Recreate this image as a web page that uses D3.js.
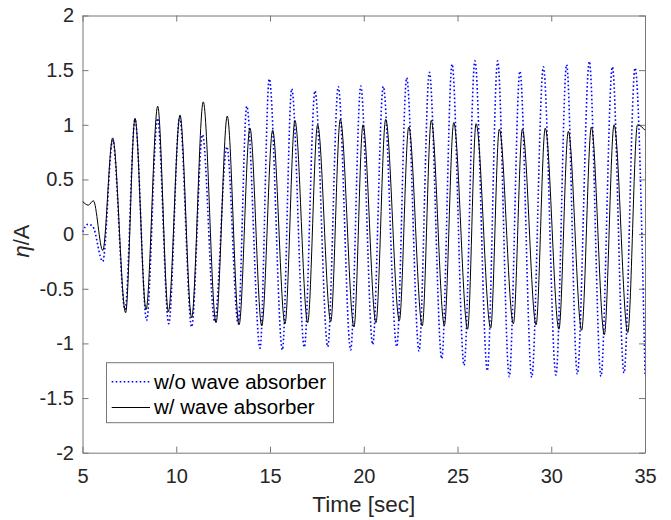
<!DOCTYPE html>
<html>
<head>
<meta charset="utf-8">
<script src="https://cdn.jsdelivr.net/npm/d3@7"></script>
<style>
  body { margin: 0; background: #fff; }
  text { font-family: "Liberation Sans", Arial, Helvetica, sans-serif; }
</style>
</head>
<body>
<div id="chart"></div>
<script>
// extrema (time in s, eta/A)
const withoutT = [5.0, 5.3, 5.55, 6.08, 6.61, 7.27, 7.80, 8.42, 9.00, 9.60, 10.18, 10.82, 11.40, 12.05,
  12.70, 13.30, 13.76, 14.47, 14.96, 15.66, 16.16, 16.83, 17.40, 18.08, 18.64, 19.30, 19.84, 20.48,
  21.04, 21.76, 22.29, 22.95, 23.50, 24.16, 24.71, 25.35, 25.93, 26.59, 27.14, 27.76, 28.33, 28.96,
  29.58, 30.25, 30.82, 31.39, 32.03, 32.65, 33.26, 33.88, 34.47, 35.0];
const withoutV = [0.02, 0.09, 0.07, -0.25, 0.86, -0.69, 1.05, -0.79, 1.06, -0.82, 1.07, -0.85, 0.91, -0.80,
  0.80, -0.82, 1.17, -1.045, 1.42, -1.06, 1.33, -1.035, 1.31, -1.03, 1.35, -1.06, 1.355, -1.01,
  1.35, -1.03, 1.43, -1.07, 1.48, -1.14, 1.555, -1.20, 1.585, -1.25, 1.585, -1.305, 1.49, -1.31,
  1.53, -1.29, 1.55, -1.28, 1.58, -1.30, 1.53, -1.27, 1.52, -1.28];

const withT = [5.0, 5.31, 5.58, 6.08, 6.61, 7.30, 7.80, 8.39, 9.01, 9.58, 10.20, 10.82, 11.44, 12.12,
  12.72, 13.35, 13.93, 14.56, 15.14, 15.80, 16.33, 17.01, 17.54, 18.24, 18.75, 19.48, 19.96, 20.65,
  21.17, 21.90, 22.40, 23.12, 23.60, 24.30, 24.80, 25.54, 25.99, 26.77, 27.23, 27.98, 28.46, 29.19,
  29.68, 30.41, 30.91, 31.62, 32.14, 32.83, 33.35, 34.08, 34.60, 35.0];
const withV = [0.30, 0.265, 0.305, -0.15, 0.88, -0.72, 1.06, -0.69, 1.17, -0.71, 1.09, -0.765, 1.21, -0.81,
  1.08, -0.83, 0.97, -0.84, 0.95, -0.82, 1.04, -0.81, 1.00, -0.80, 1.05, -0.85, 1.00, -0.81,
  1.05, -0.79, 0.98, -0.84, 1.04, -0.835, 1.02, -0.87, 1.01, -0.86, 0.96, -0.82, 0.96, -0.83,
  0.97, -0.87, 0.94, -0.88, 0.98, -0.92, 1.00, -0.90, 1.00, 0.95];

const xTicks = [5, 10, 15, 20, 25, 30, 35];
const yTicks = [-2, -1.5, -1, -0.5, 0, 0.5, 1, 1.5, 2];
const legendLabels = ["w/o wave absorber", "w/ wave absorber"];

const W = 671, H = 520;
const margin = { top: 15.5, right: 26, bottom: 67.3, left: 82.5 };
const width = W - margin.left - margin.right;
const height = H - margin.top - margin.bottom;

const svg = d3.select("#chart").append("svg")
  .attr("width", W).attr("height", H);

svg.append("rect").attr("width", W).attr("height", H).attr("fill", "#fff");

const g = svg.append("g").attr("transform", `translate(${margin.left},${margin.top})`);

const x = d3.scaleLinear().domain([5, 35]).range([0, width]);
const y = d3.scaleLinear().domain([-2, 2]).range([height, 0]);

const fmt = d => String(d);

function styleAxis(sel) {
  sel.select(".domain").attr("stroke", "#777").attr("stroke-width", 1);
  sel.selectAll(".tick line").attr("stroke", "#777").attr("stroke-width", 1);
  sel.selectAll(".tick text").attr("fill", "#262626").style("font-size", "20px");
  sel.attr("font-family", null);
}

g.append("g").attr("transform", `translate(0,${height})`)
  .call(d3.axisBottom(x).tickValues(xTicks).tickFormat(fmt).tickSizeInner(-6).tickSizeOuter(0).tickPadding(16.6))
  .call(styleAxis);
g.append("g")
  .call(d3.axisLeft(y).tickValues(yTicks).tickFormat(fmt).tickSizeInner(-6).tickSizeOuter(0).tickPadding(8.5))
  .call(styleAxis);
g.append("g")
  .call(d3.axisTop(x).tickValues(xTicks).tickFormat("").tickSizeInner(-6).tickSizeOuter(0))
  .call(styleAxis);
g.append("g").attr("transform", `translate(${width},0)`)
  .call(d3.axisRight(y).tickValues(yTicks).tickFormat("").tickSizeInner(-6).tickSizeOuter(0))
  .call(styleAxis);

g.append("clipPath").attr("id", "clip")
  .append("rect").attr("width", width).attr("height", height);

const line = d3.line()
  .x(d => x(d[0]))
  .y(d => y(d[1]))
  .curve(d3.curveMonotoneX);

const withoutData = d3.zip(withoutT, withoutV);
const withData = d3.zip(withT, withV);

g.append("path")
  .attr("clip-path", "url(#clip)")
  .attr("d", line(withoutData))
  .attr("fill", "none")
  .attr("stroke", "#0000ff")
  .attr("stroke-width", 1.6)
  .attr("stroke-dasharray", "1.6,2.4");

g.append("path")
  .attr("clip-path", "url(#clip)")
  .attr("d", line(withData))
  .attr("fill", "none")
  .attr("stroke", "#000")
  .attr("stroke-width", 1);

// legend
const lg = svg.append("g");
lg.append("rect")
  .attr("x", 106.5).attr("y", 362.7).attr("width", 227).attr("height", 60)
  .attr("fill", "#fff").attr("stroke", "#777").attr("stroke-width", 1);
const rows = [
  { label: legendLabels[0], color: "#0000ff", w: 1.6, dash: "1.6,2.4", ly: 381.7, ty: 388.5 },
  { label: legendLabels[1], color: "#000", w: 1, dash: null, ly: 407.5, ty: 413.5 }
];
rows.forEach(r => {
  lg.append("line")
    .attr("x1", 111.7).attr("x2", 150).attr("y1", r.ly).attr("y2", r.ly)
    .attr("stroke", r.color).attr("stroke-width", r.w)
    .attr("stroke-dasharray", r.dash);
  lg.append("text")
    .attr("x", 154).attr("y", r.ty)
    .attr("fill", "#000")
    .style("font-size", "20.5px")
    .text(r.label);
});

// axis labels
svg.append("text")
  .attr("x", margin.left + width / 2).attr("y", 511.5)
  .attr("text-anchor", "middle")
  .attr("fill", "#262626")
  .style("font-size", "22.5px")
  .text("Time [sec]");

const yl = svg.append("text")
  .attr("transform", "translate(29,241) rotate(-90)")
  .attr("text-anchor", "middle")
  .attr("fill", "#262626")
  .style("font-size", "22px");
yl.append("tspan").style("font-style", "italic").text("η");
yl.append("tspan").text("/A");
</script>
</body>
</html>
